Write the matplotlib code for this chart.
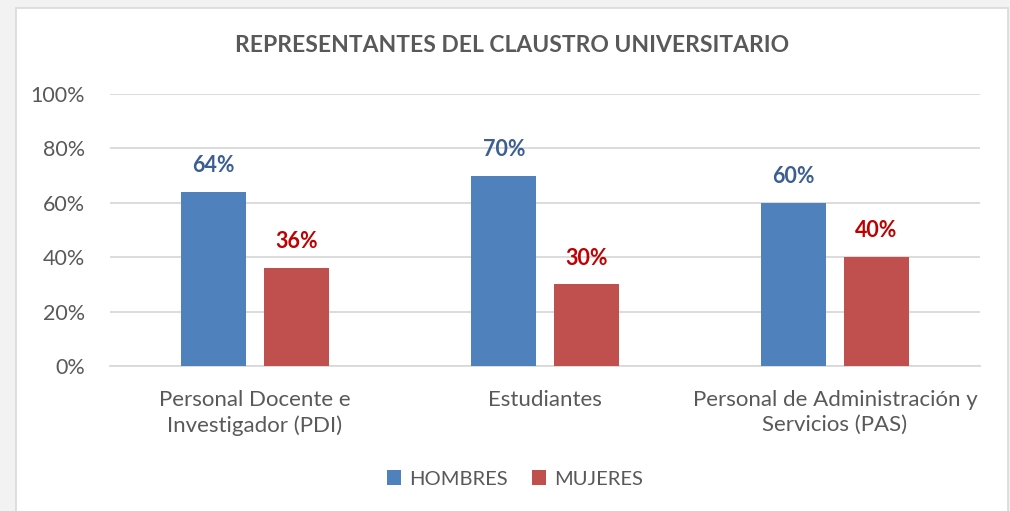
import numpy as np
import matplotlib.pyplot as plt
from matplotlib.patches import Rectangle

categorias = ["Personal Docente e\nInvestigador (PDI)", "Estudiantes",
              "Personal de Administración y\nServicios (PAS)"]
hombres = [64, 70, 60]
mujeres = [36, 30, 40]
yticks = [0, 20, 40, 60, 80, 100]

plt.rcParams['font.family'] = ['Lato', 'DejaVu Sans']

fig = plt.figure(figsize=(10.1, 5.11), dpi=100)
fig.patch.set_facecolor("#F2F2F2")
fig.patches.append(Rectangle((16 / 1010, -0.01), 992 / 1010, 1 - 8 / 511 + 0.01,
                             transform=fig.transFigure, facecolor="white",
                             edgecolor="#D9D9D9", linewidth=1.2, zorder=-10))

ax = fig.add_axes([110 / 1010, 1 - 366 / 511, 870 / 1010, 272 / 511])
ax.set_facecolor("none")

x = np.arange(len(categorias))
w = 0.224
off = 0.142
b1 = ax.bar(x - off, hombres, w, color="#4F81BD", label="HOMBRES", zorder=3)
b2 = ax.bar(x + off, mujeres, w, color="#C0504D", label="MUJERES", zorder=3)

for xi, v in zip(x, hombres):
    ax.annotate(f"{v}%", (xi - off, v), xytext=(0, 19), textcoords="offset points",
                ha="center", va="center", color="#3B5F92", fontsize=15.5, fontweight="bold")
for xi, v in zip(x, mujeres):
    ax.annotate(f"{v}%", (xi + off, v), xytext=(0, 19), textcoords="offset points",
                ha="center", va="center", color="#C00000", fontsize=15.5, fontweight="bold")

ax.set_xlim(-0.5, 2.5)
ax.set_ylim(0, 100)
ax.set_yticks(yticks)
ax.set_yticklabels([f"{t}%" for t in yticks])
ax.set_xticks(x)
ax.set_xticklabels(categorias, fontsize=16, color="#595959", linespacing=1.35)
ax.tick_params(axis="y", labelsize=15.5, labelcolor="#595959", length=0, pad=18)
ax.tick_params(axis="x", length=0, pad=17)
ax.grid(axis="y", color="#D9D9D9", linewidth=1.3, zorder=0)
for s in ["top", "right", "left"]:
    ax.spines[s].set_visible(False)
ax.spines["bottom"].set_color("#D9D9D9")
ax.spines["bottom"].set_linewidth(1.3)

fig.text(512 / 1010, 1 - 45 / 511, "REPRESENTANTES DEL CLAUSTRO UNIVERSITARIO",
         ha="center", va="center", fontsize=16.5, fontweight="bold", color="#595959")

fig.legend(handles=[b1, b2], loc="center", bbox_to_anchor=(515 / 1010, 1 - 479 / 511),
           ncol=2, frameon=False, fontsize=14.5, labelcolor="#595959",
           handlelength=0.7, handleheight=0.7, handletextpad=0.4, columnspacing=1.2)

fig.savefig("out.png", dpi=100, facecolor=fig.get_facecolor())
